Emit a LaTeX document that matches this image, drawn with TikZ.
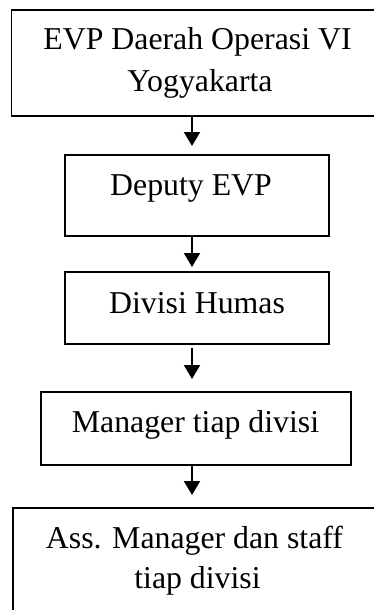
\documentclass[tikz,border=0pt]{standalone}
\usepackage{fontspec}
\setmainfont{Liberation Serif}
\usetikzlibrary{arrows.meta}
\begin{document}
\begin{tikzpicture}[x=1pt,y=-1pt,
  box/.style={draw,line width=1.8pt,rectangle,inner sep=0pt,outer sep=0pt},
  lbl/.style={anchor=base,inner sep=0pt,font=\fontsize{31.8}{38}\selectfont},
  arr/.style={line width=2pt,-{Triangle[width=16pt,length=14pt]}}]
\useasboundingbox (0,0) rectangle (374,610);
\clip (0,0) rectangle (374,610);
% boxes
\node[box,minimum width=376.5pt,minimum height=106pt] (b1) at (199.75,63) {};
\node[box,minimum width=264pt,minimum height=81pt] (b2) at (197,195.5) {};
\node[box,minimum width=264pt,minimum height=72pt] (b3) at (197,308) {};
\node[box,minimum width=310pt,minimum height=73pt] (b4) at (196,428.5) {};
\node[box,minimum width=367pt,minimum height=122pt] (b5) at (196.5,569) {};
% texts
\node[lbl] (t1a) at (197.5,50) {EVP Daerah Operasi VI};
\node[lbl] (t1b) at (200,92) {Yogyakarta};
\node[lbl] (t2) at (191,195) {Deputy EVP};
\node[lbl] (t3) at (197,313) {Divisi Humas};
\node[lbl] (t4) at (195.5,432) {Manager tiap divisi};
\node[lbl] (t5a) at (194.5,548) {Ass. Manager dan staff};
\node[lbl] (t5b) at (197.5,588) {tiap divisi};
% arrows
\coordinate (ax) at (192,0);
\draw[arr] (b1.south -| ax) -- ([yshift=9pt]b2.north -| ax);
\draw[arr] (b2.south -| ax) -- ([yshift=5pt]b3.north -| ax);
\draw[arr] ([yshift=-4pt]b3.south -| ax) -- ([yshift=13pt]b4.north -| ax);
\draw[arr] (b4.south -| ax) -- ([yshift=13pt]b5.north -| ax);
\end{tikzpicture}
\end{document}
